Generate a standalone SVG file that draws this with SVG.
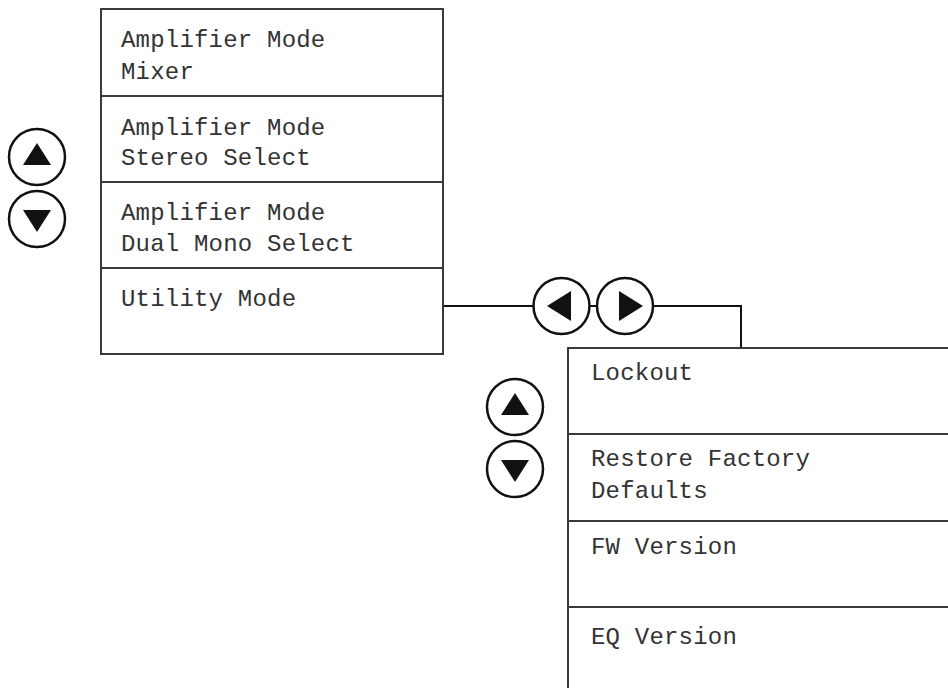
<svg xmlns="http://www.w3.org/2000/svg" width="948" height="688" viewBox="0 0 948 688">
<style>
.box{fill:#fff;stroke:#3a3a3a;stroke-width:2}
.div{stroke:#3a3a3a;stroke-width:2}
.btn{fill:#fff;stroke:#111;stroke-width:2.5}
.tri{fill:#111}
.t{font-family:"Liberation Mono","DejaVu Sans Mono",monospace;font-size:24px;fill:#333;letter-spacing:0.2px}
.con{fill:none;stroke:#111;stroke-width:2}
</style>
<rect width="948" height="688" fill="#fff"/>
<g id="connectors">
<path class="con" d="M443 306 H534"/>
<path class="con" d="M589 306 H598"/>
<path class="con" d="M653 306 H741 V348"/>
</g>
<g id="main-menu">
<rect class="box" x="101" y="9" width="342" height="345"/>
<line class="div" x1="101" y1="96" x2="443" y2="96"/>
<line class="div" x1="101" y1="182" x2="443" y2="182"/>
<line class="div" x1="101" y1="268" x2="443" y2="268"/>
<text class="t" x="121" y="47">Amplifier Mode</text>
<text class="t" x="121" y="79">Mixer</text>
<text class="t" x="121" y="135">Amplifier Mode</text>
<text class="t" x="121" y="165">Stereo Select</text>
<text class="t" x="121" y="220">Amplifier Mode</text>
<text class="t" x="121" y="251">Dual Mono Select</text>
<text class="t" x="121" y="306">Utility Mode</text>
</g>
<g id="left-up-btn">
<circle class="btn" cx="37" cy="157" r="28"/>
<polygon class="tri" points="23,165 51,165 37,143"/>
</g>
<g id="left-down-btn">
<circle class="btn" cx="37" cy="219" r="28"/>
<polygon class="tri" points="23,210 51,210 37,232"/>
</g>
<g id="left-btn">
<circle class="btn" cx="561.5" cy="306" r="28"/>
<polygon class="tri" points="547,306 571,291 571,321"/>
</g>
<g id="right-btn">
<circle class="btn" cx="625" cy="306" r="28"/>
<polygon class="tri" points="643,306 619,291 619,321"/>
</g>
<g id="utility-menu">
<rect class="box" x="568" y="348" width="390" height="360"/>
<line class="div" x1="568" y1="434" x2="948" y2="434"/>
<line class="div" x1="568" y1="521" x2="948" y2="521"/>
<line class="div" x1="568" y1="607" x2="948" y2="607"/>
<text class="t" x="591" y="380">Lockout</text>
<text class="t" x="591" y="466">Restore Factory</text>
<text class="t" x="591" y="498">Defaults</text>
<text class="t" x="591" y="554">FW Version</text>
<text class="t" x="591" y="644">EQ Version</text>
</g>
<g id="util-up-btn">
<circle class="btn" cx="515" cy="407" r="28"/>
<polygon class="tri" points="501,415 529,415 515,393"/>
</g>
<g id="util-down-btn">
<circle class="btn" cx="515" cy="469" r="28"/>
<polygon class="tri" points="501,460 529,460 515,482"/>
</g>
</svg>
